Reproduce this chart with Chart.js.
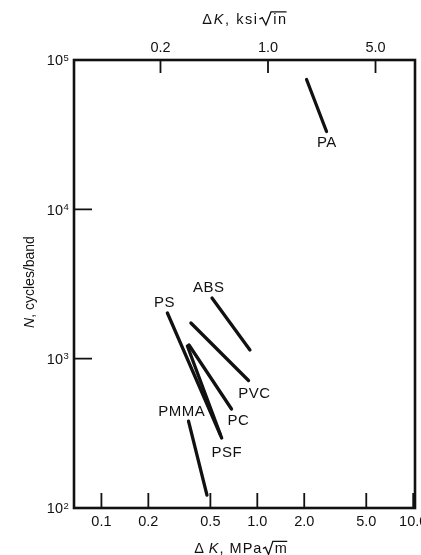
<!DOCTYPE html>
<html><head><meta charset="utf-8">
<script src="https://cdn.jsdelivr.net/npm/chart.js@4.4.0/dist/chart.umd.min.js"></script>
<style>html,body{margin:0;padding:0;background:#fff;}#wrap{width:421px;height:555px;}</style>
</head><body><div id="wrap"><canvas id="c" width="421" height="555"></canvas></div>
<script>
// ---- data ----
const materials = ['PA', 'ABS', 'PS', 'PSF', 'PC', 'PVC', 'PMMA'];
const startK = [2.07, 0.512, 0.265, 0.356, 0.3645, 0.375, 0.362];   // MPa·m^0.5
const startN = [74000, 2548, 2022, 1215, 1235, 1733, 382];         // cycles/band
const endK   = [2.78, 0.897, 0.580, 0.591, 0.683, 0.878, 0.4755];
const endN   = [33200, 1143, 308, 294, 460, 714, 122];
const labelK = [2.786, 0.486, 0.253, 0.636, 0.755, 0.956, 0.326];
const labelN = [28380, 3033, 2406, 238, 392.6, 595, 449.7];

const bottomTicks = [0.1, 0.2, 0.5, 1, 2, 5, 10];
const bottomTickLabels = ['0.1', '0.2', '0.5', '1.0', '2.0', '5.0', '10.0'];
const topTicks = [0.2, 1, 5];
const topTickLabels = ['0.2', '1.0', '5.0'];
const yTicks = [100, 1000, 10000, 100000];
const yTickExponents = ['2', '3', '4', '5'];

const FONT = '"Liberation Sans", Arial, sans-serif';
const INK = '#111';

const datasets = materials.map((m, i) => ({
  label: m,
  data: [{x: startK[i], y: startN[i]}, {x: endK[i], y: endN[i]}],
  showLine: true,
  borderColor: INK,
  borderWidth: 3.3,
  borderCapStyle: 'round',
  pointRadius: 0,
  fill: false
}));

function setFont(ctx, p, fs) {
  ctx.font = (p.it ? 'italic ' : '') + fs + 'px ' + FONT;
}
function partWidth(ctx, p, fs, rw) {
  setFont(ctx, p, fs);
  const w = ctx.measureText(p.t).width;
  return p.rad ? w + fs * rw : w;
}
function drawParts(ctx, parts, cx, baseline, fs, sp, rw) {
  ctx.letterSpacing = sp + 'px';
  let total = 0;
  parts.forEach(p => total += partWidth(ctx, p, fs, rw));
  let x = cx - total / 2;
  ctx.textAlign = 'left';
  ctx.textBaseline = 'alphabetic';
  parts.forEach(p => {
    const w = partWidth(ctx, p, fs, rw);
    setFont(ctx, p, fs);
    if (p.rad) {
      const r = fs * rw;
      ctx.beginPath();
      ctx.lineWidth = 1.3;
      ctx.moveTo(x + 0.05 * r, baseline - 0.30 * fs);
      ctx.lineTo(x + 0.25 * r, baseline - 0.40 * fs);
      ctx.lineTo(x + 0.50 * r, baseline + 0.10 * fs);
      ctx.lineTo(x + 0.85 * r, baseline - 0.80 * fs);
      ctx.lineTo(x + w - sp + 0.5, baseline - 0.80 * fs);
      ctx.stroke();
      ctx.fillText(p.t, x + r, baseline);
    } else {
      ctx.fillText(p.t, x, baseline);
    }
    x += w;
  });
  ctx.letterSpacing = '0px';
}

const decor = {
  id: 'decor',
  afterDraw(chart) {
    const ctx = chart.ctx;
    const a = chart.chartArea;
    const sx = chart.scales.x, sx2 = chart.scales.x2, sy = chart.scales.y;
    ctx.save();
    ctx.strokeStyle = INK;
    ctx.fillStyle = INK;
    // frame
    ctx.lineWidth = 2.6;
    ctx.strokeRect(a.left, a.top, a.right - a.left, a.bottom - a.top);
    // inward tick marks
    ctx.lineWidth = 1.8;
    ctx.beginPath();
    bottomTicks.forEach(v => {
      const px = sx.getPixelForValue(v);
      ctx.moveTo(px, a.bottom); ctx.lineTo(px, a.bottom - 15);
    });
    topTicks.forEach(v => {
      const px = sx2.getPixelForValue(v);
      ctx.moveTo(px, a.top); ctx.lineTo(px, a.top + 13);
    });
    yTicks.forEach(v => {
      const py = sy.getPixelForValue(v);
      ctx.moveTo(a.left, py); ctx.lineTo(a.left + 18, py);
    });
    ctx.stroke();
    // y tick labels 10^n
    yTicks.forEach((v, i) => {
      const py = sy.getPixelForValue(v);
      ctx.textBaseline = 'alphabetic';
      ctx.textAlign = 'right';
      ctx.font = '14.5px ' + FONT;
      ctx.fillText('10', 63, py + 5.2);
      ctx.textAlign = 'left';
      ctx.font = '9.5px ' + FONT;
      ctx.fillText(yTickExponents[i], 63.5, py + 0.5);
    });
    // axis titles
    drawParts(ctx, [{t: '\u0394'}, {t: 'K', it: true}, {t: ', ksi'}, {t: 'in', rad: true}], 245, 23.5, 14.5, 1.6, 1.0);
    drawParts(ctx, [{t: '\u0394\u2009'}, {t: 'K', it: true}, {t: ', MPa'}, {t: 'm', rad: true}], 241, 553, 14.5, 1.0, 0.85);
    ctx.save();
    ctx.translate(33.5, 282);
    ctx.rotate(-Math.PI / 2);
    drawParts(ctx, [{t: 'N', it: true}, {t: ', cycles/band'}], 0, 0, 14, 0, 0);
    ctx.restore();
    // material labels
    ctx.font = '15px ' + FONT;
    ctx.textAlign = 'center';
    ctx.textBaseline = 'alphabetic';
    ctx.letterSpacing = '0.5px';
    materials.forEach((m, i) => {
      const px = sx.getPixelForValue(labelK[i]);
      const py = sy.getPixelForValue(labelN[i]);
      ctx.fillText(m, px + 0.25, py + 0.358 * 15);
    });
    ctx.letterSpacing = '0px';
    ctx.restore();
  }
};

new Chart(document.getElementById('c'), {
  type: 'scatter',
  data: {datasets},
  options: {
    responsive: false,
    animation: false,
    devicePixelRatio: 1,
    layout: {padding: {left: 0, right: 6, top: 0, bottom: 0}},
    plugins: {legend: {display: false}, tooltip: {enabled: false}},
    scales: {
      x: {
        type: 'logarithmic', position: 'bottom', min: 0.0667, max: 10.27,
        grid: {display: false, drawTicks: false, tickLength: 0},
        border: {display: false},
        ticks: {autoSkip: false, maxRotation: 0, minRotation: 0, padding: 5, color: INK,
          font: {family: FONT, size: 14.5},
          callback: (v, i) => bottomTickLabels[i]},
        afterBuildTicks: s => { s.ticks = bottomTicks.map(v => ({value: v})); },
        afterFit: s => { s.height = 47; s.paddingLeft = 0; s.paddingRight = 0; }
      },
      x2: {
        type: 'logarithmic', position: 'top', axis: 'x', min: 0.0548, max: 9.03,
        grid: {display: false, drawTicks: false, tickLength: 0},
        border: {display: false},
        ticks: {autoSkip: false, maxRotation: 0, minRotation: 0, padding: 3, color: INK,
          font: {family: FONT, size: 14.5},
          callback: (v, i) => topTickLabels[i]},
        afterBuildTicks: s => { s.ticks = topTicks.map(v => ({value: v})); },
        afterFit: s => { s.height = 60; s.paddingLeft = 0; s.paddingRight = 0; }
      },
      y: {
        type: 'logarithmic', position: 'left', min: 100, max: 100000,
        grid: {display: false, drawTicks: false, tickLength: 0},
        border: {display: false},
        ticks: {display: false},
        afterBuildTicks: s => { s.ticks = yTicks.map(v => ({value: v})); },
        afterFit: s => { s.width = 74; s.paddingTop = 0; s.paddingBottom = 0; }
      }
    }
  },
  plugins: [decor]
});
</script>
</body></html>
